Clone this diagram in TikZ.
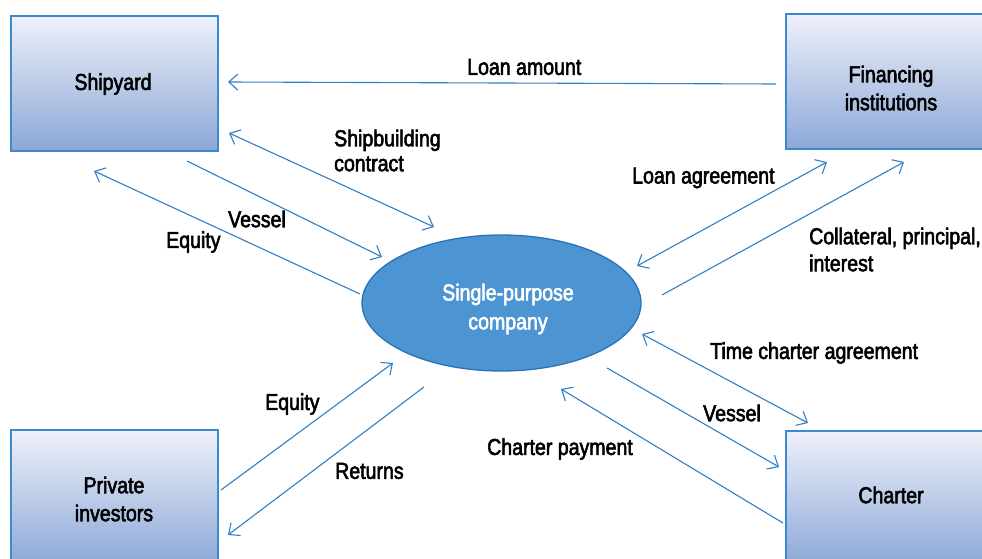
\documentclass[tikz,border=0pt]{standalone}
\usepackage{fontspec}
\setmainfont{Liberation Sans}[FakeStretch=0.85,FakeBold=2.5]
\usetikzlibrary{arrows.meta,shapes.geometric}
\definecolor{linec}{HTML}{2F7FC6}
\definecolor{boxborder}{HTML}{3A8AD0}
\definecolor{boxtop}{HTML}{EEF1F9}
\definecolor{boxbot}{HTML}{8CA7D7}
\definecolor{ellfill}{HTML}{4C94D2}
\definecolor{elldraw}{HTML}{2A72B5}
\begin{document}
\begin{tikzpicture}[x=1pt,y=-1pt,
  box/.style={draw=boxborder,line width=1.2pt,top color=boxtop,bottom color=boxbot,
    minimum height=135pt,inner sep=0pt},
  txt/.style={font=\fontsize{23}{28}\selectfont,inner sep=0pt},
  lbl/.style={txt,anchor=west,align=left},
  conn/.style={draw=linec,line width=1.1pt},
  tip/.style={-{Straight Barb[length=9pt,width=16pt]}},
  tips/.style={{Straight Barb[length=9pt,width=16pt]}-{Straight Barb[length=9pt,width=16pt]}}
]
\useasboundingbox (0,0) rectangle (982,559);
\clip (0,0) rectangle (982,559);

% boxes
\node[box,minimum width=207pt] (ship) at (114.5,83.5) {};
\node[box,minimum width=210pt] (fin) at (891,81.5) {};
\node[box,minimum width=207pt] (inv) at (114.5,497.5) {};
\node[box,minimum width=210pt] (char) at (891,498.5) {};
\node[txt] (shiptext) at (113,84) {Shipyard};
\node[txt,align=center] (fintext) at (891,88) {Financing\\institutions};
\node[txt,align=center] (invtext) at (114,499) {Private\\investors};
\node[txt] (chartext) at (891,495) {Charter};

% ellipse
\node[ellipse,draw=elldraw,fill=ellfill,line width=1.3pt,minimum width=279pt,
  minimum height=136pt,inner sep=0pt] (spc) at (501.5,303) {};
\node[txt,text=white,align=center,font=\fontsize{23}{29}\selectfont] (spctext) at (508,309) {Single-purpose\\company};

% connector end points
\coordinate (la1) at (776,84);  \coordinate (la2) at (228,82);
\coordinate (sc1) at (229,133); \coordinate (sc2) at (434,227);
\coordinate (vs1) at (187,161); \coordinate (vs2) at (382,257);
\coordinate (eq1) at (360,294); \coordinate (eq2) at (94,171);
\coordinate (lg1) at (637,266); \coordinate (lg2) at (827,162);
\coordinate (co1) at (662,295); \coordinate (co2) at (904,162);
\coordinate (tc1) at (642,334); \coordinate (tc2) at (808,423);
\coordinate (vr1) at (607,368); \coordinate (vr2) at (779,467);
\coordinate (cp1) at (783,523); \coordinate (cp2) at (561,389);
\coordinate (ei1) at (221,490); \coordinate (ei2) at (393,363);
\coordinate (rt1) at (424,387); \coordinate (rt2) at (228,535);

\draw[conn,tip] (la1) -- (la2);
\draw[conn,tips] (sc1) -- (sc2);
\draw[conn,tip] (vs1) -- (vs2);
\draw[conn,tip] (eq1) -- (eq2);
\draw[conn,tips] (lg1) -- (lg2);
\draw[conn,tip] (co1) -- (co2);
\draw[conn,tips] (tc1) -- (tc2);
\draw[conn,tip] (vr1) -- (vr2);
\draw[conn,tip] (cp1) -- (cp2);
\draw[conn,tip] (ei1) -- (ei2);
\draw[conn,tip] (rt1) -- (rt2);

% labels
\node[lbl] (lla) at (467,67) {Loan amount};
\node[lbl,font=\fontsize{23}{25}\selectfont] (lsc) at (334,150.5) {Shipbuilding\\contract};
\node[lbl] (lvs) at (228,219) {Vessel};
\node[lbl] (leq) at (166,242) {Equity};
\node[lbl] (llg) at (632,178) {Loan agreement};
\node[lbl,font=\fontsize{23}{27}\selectfont] (lco) at (809,249.5) {Collateral, principal,\\interest};
\node[lbl] (ltc) at (710,353) {Time charter agreement};
\node[lbl] (lvr) at (703,413) {Vessel};
\node[lbl] (lcp) at (487,449) {Charter payment};
\node[lbl] (lei) at (265,404) {Equity};
\node[lbl] (lrt) at (335,471) {Returns};
\end{tikzpicture}
\end{document}
